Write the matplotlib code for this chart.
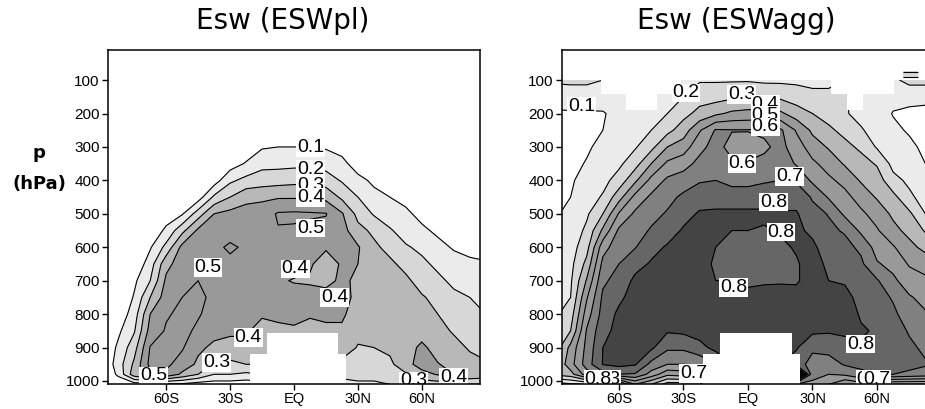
import matplotlib
matplotlib.use("Agg")
import matplotlib.pyplot as plt
import numpy as np

lats = [-90, -82.5, -75, -67.5, -60, -52.5, -45, -37.5, -30, -22.5, -15, -7.5, 0,
        7.5, 15, 22.5, 30, 37.5, 45, 52.5, 60, 67.5, 75, 82.5, 90]
plevs = [100, 150, 200, 250, 300, 350, 400, 450, 500, 550, 600, 650, 700, 750, 800,
         850, 900, 950, 980, 1010]

# one row per latitude, top of atmosphere first
esw_pl = np.array([
    [0, 0, 0, 0, 0, 0, 0, 0, 0, 0, 0, 0, 0, 0, 0, 0, 0, 0, 0, 0],
    [0, 0, 0, 0, 0, 0, 0, 0, 0, 0, 0, 0, 0, 0, .03, .08, .12, .15, .12, .03],
    [0, 0, 0, 0, 0, 0, 0, 0, 0, 0, 0, .02, .08, .11, .15, .19, .26, .32, .36, .05],
    [0, 0, 0, 0, 0, 0, 0, 0, 0, .03, .09, .15, .2, .3, .4, .44, .505, .53, .47, .05],
    [0, 0, 0, 0, 0, 0, 0, 0, .05, .12, .23, .37, .42, .45, .49, .51, .53, .52, .48, .08],
    [0, 0, 0, 0, 0, 0, 0, .03, .09, .27, .43, .45, .47, .5, .52, .53, .51, .46, .38, .08],
    [0, 0, 0, 0, 0, 0, .02, .05, .25, .42, .45, .47, .5, .52, .51, .48, .42, .38, .3, .05],
    [0, 0, 0, 0, 0, 0, .05, .22, .4, .44, .47, .49, .5, .48, .46, .43, .38, .29, .2, .05],
    [0, 0, 0, 0, 0, .05, .18, .3, .43, .45, .52, .47, .47, .46, .44, .42, .36, .28, .2, .05],
    [0, 0, 0, 0, .03, .11, .23, .37, .44, .46, .48, .47, .46, .45, .43, .41, .38, .3, .18, .04],
    [0, 0, 0, 0, .09, .17, .25, .38, .45, .47, .47, .47, .46, .45, .41, .37, .35, .3, .2, .05],
    [0, 0, 0, 0, .1, .17, .26, .39, .51, .495, .47, .44, .41, .42, .41, .39, .38, .35, .3, .2],
    [0, 0, 0, 0, .1, .175, .27, .39, .515, .49, .47, .43, .395, .43, .42, .39, .38, .35, .3, .2],
    [0, 0, 0, 0, .1, .175, .27, .39, .51, .48, .45, .41, .39, .43, .41, .37, .36, .33, .3, .2],
    [0, 0, 0, 0, .09, .16, .25, .37, .505, .47, .41, .36, .385, .42, .42, .38, .36, .33, .3, .2],
    [0, 0, 0, 0, .06, .13, .19, .28, .41, .44, .42, .41, .41, .42, .41, .39, .34, .28, .24, .15],
    [0, 0, 0, 0, 0, .05, .13, .2, .27, .33, .41, .4, .39, .385, .37, .32, .295, .27, .24, .18],
    [0, 0, 0, 0, 0, 0, .08, .13, .19, .28, .32, .34, .35, .36, .35, .33, .3, .26, .24, .18],
    [0, 0, 0, 0, 0, 0, .03, .1, .15, .21, .27, .32, .34, .36, .36, .35, .32, .28, .26, .2],
    [0, 0, 0, 0, 0, 0, 0, .07, .12, .16, .21, .27, .32, .35, .36, .37, .36, .36, .29, .22],
    [0, 0, 0, 0, 0, 0, 0, .02, .07, .12, .18, .22, .26, .31, .34, .36, .42, .45, .36, .25],
    [0, 0, 0, 0, 0, 0, 0, 0, .03, .08, .13, .18, .22, .27, .3, .33, .36, .405, .41, .25],
    [0, 0, 0, 0, 0, 0, 0, 0, 0, .04, .09, .14, .18, .22, .26, .29, .33, .37, .4, .2],
    [0, 0, 0, 0, 0, 0, 0, 0, 0, .02, .07, .12, .16, .2, .23, .26, .29, .33, .38, .2],
    [0, 0, 0, 0, 0, 0, 0, 0, 0, .02, .06, .11, .14, .17, .2, .24, .27, .31, .36, .2],
]).T

esw_agg = np.array([
    [.22, .13, .09, .08, .07, .07, .07, .08, .09, .1, .11, .12, .14, .16, .18, .195, .23, .29, .32, .05],
    [.22, .15, .09, .08, .08, .08, .09, .1, .12, .14, .155, .17, .185, .2, .25, .3, .43, .46, .36, .08],
    [.22, .15, .09, .08, .09, .105, .13, .155, .185, .22, .265, .33, .41, .49, .55, .61, .63, .65, .55, .1],
    [.2, .13, .095, .1, .12, .14, .17, .21, .3, .42, .56, .63, .68, .72, .74, .77, .8, .805, .66, .12],
    [.17, .12, .12, .13, .15, .18, .24, .36, .51, .62, .66, .7, .74, .78, .82, .83, .84, .83, .7, .15],
    [.17, .13, .14, .16, .19, .26, .38, .53, .62, .66, .695, .77, .82, .84, .85, .85, .85, .81, .69, .4],
    [.16, .15, .16, .2, .27, .4, .53, .62, .67, .71, .77, .81, .83, .85, .86, .85, .82, .67, .56, .3],
    [.17, .17, .2, .27, .4, .52, .62, .67, .71, .76, .81, .83, .84, .85, .84, .81, .72, .6, .43, .15],
    [.19, .2, .27, .35, .45, .56, .65, .72, .77, .81, .83, .84, .85, .85, .84, .82, .72, .6, .45, .15],
    [.19, .26, .33, .49, .57, .63, .69, .76, .81, .83, .84, .85, .85, .85, .84, .84, .77, .62, .45, .15],
    [.19, .26, .38, .61, .64, .65, .7, .75, .82, .83, .8, .78, .8, .84, .85, .84, .83, .7, .6, .4],
    [.19, .28, .42, .605, .56, .62, .67, .75, .82, .8, .77, .76, .8, .84, .85, .84, .83, .8, .7, .5],
    [.19, .3, .43, .605, .55, .61, .67, .75, .82, .8, .77, .76, .78, .83, .85, .84, .83, .8, .7, .5],
    [.18, .29, .43, .62, .58, .63, .69, .75, .82, .79, .77, .76, .79, .83, .85, .84, .83, .8, .7, .5],
    [.18, .28, .42, .62, .63, .66, .7, .76, .81, .81, .78, .77, .79, .84, .85, .84, .83, .8, .7, .5],
    [.18, .25, .35, .49, .55, .59, .69, .76, .81, .82, .81, .79, .79, .83, .84, .83, .81, .75, 1.25, .6],
    [.18, .22, .3, .38, .45, .52, .58, .69, .73, .78, .82, .84, .84, .85, .84, .82, .72, .66, .63, .58],
    [.18, .22, .26, .32, .39, .46, .52, .59, .695, .72, .75, .78, .8, .83, .84, .81, .74, .65, .6, .5],
    [.2, .21, .21, .27, .33, .39, .47, .53, .58, .69, .73, .76, .79, .83, .85, .82, .76, .71, .62, .4],
    [.15, .16, .17, .21, .28, .34, .39, .46, .52, .58, .68, .72, .74, .77, .79, .81, .79, .72, .68, .45],
    [.14, .14, .15, .16, .19, .29, .35, .39, .46, .51, .56, .61, .71, .74, .77, .79, .79, .75, .7, .4],
    [.18, .13, .095, .12, .14, .17, .23, .33, .38, .43, .51, .57, .62, .69, .72, .75, .76, .76, .7, .3],
    [.23, .13, .08, .09, .12, .15, .18, .22, .32, .37, .43, .49, .55, .61, .65, .69, .72, .73, .68, .3],
    [.23, .13, .07, .07, .08, .1, .13, .16, .2, .29, .37, .46, .52, .57, .61, .64, .68, .71, .66, .3],
    [.23, .13, .06, .06, .07, .08, .09, .1, .14, .19, .28, .38, .47, .53, .57, .61, .65, .69, .66, .3],
]).T

levels = [0, .1, .2, .3, .4, .5, .6, .7, .8, .9, 2]
shades = ["#ffffff", "#ebebeb", "#d7d7d7", "#b8b8b8", "#999999", "#999999",
          "#808080", "#666666", "#444444", "#000000"]

# below-ground cells, white in both panels
topo_lat = [-20.7, -12.9, 20.6, 24.4]
topo_p = [920, 857, 920, 920]
# cells without data at the top of the ESWagg panel
top_lat = [-88, -68.4, -56.9, -42.5, -31.2, 38.6, 45.9, 53.3, 68, 88]
top_p = [100, 142, 190, 142, 100, 142, 190, 142, 100, 100]
patch_lat = [72, 79.3]
patch_top = [73, 73]
patch_bot = [95, 95]

pl_labels = [("0.1", 7.7, 303), ("0.2", 7.7, 368), ("0.3", 7.7, 415), ("0.4", 7.7, 452),
             ("0.5", 7.7, 543), ("0.5", -40.3, 660), ("0.4", 0.6, 665), ("0.4", 19, 750),
             ("0.4", -21.5, 870), ("0.3", -36.4, 945), ("0.5", -66, 985),
             ("0.3", 56, 1000), ("0.4", 75, 990)]
agg_labels = [("0.1", -77.5, 178), ("0.2", -28.8, 138), ("0.3", -3, 143), ("0.4", 8, 172),
              ("0.5", 8, 205), ("0.6", 8, 240), ("0.6", -2.8, 350), ("0.7", 19.4, 388),
              ("0.8", 12, 465), ("0.8", 15.4, 555), ("0.8", -6.7, 720), ("0.8", 52.4, 890),
              ("0.3", -65.5, 995), ("0.8", -69.7, 995), ("0.7", -25.3, 978),
              ("0.6", 56.8, 995), ("0.7", 59.7, 995)]

yticks = [100, 200, 300, 400, 500, 600, 700, 800, 900, 1000]
xticks = [-60, -30, 0, 30, 60]
xticklabels = ["60S", "30S", "EQ", "30N", "60N"]

W, H = 925, 409
fig = plt.figure(figsize=(W / 100, H / 100), dpi=100)
plt.rcParams["font.family"] = ["Liberation Sans", "DejaVu Sans"]


def panel(x0, x1, xlim, z, title, labels, title_x):
    ax = fig.add_axes([x0 / W, 1 - 384 / H, (x1 - x0) / W, (384 - 50) / H])
    ax.contourf(lats, plevs, z, levels=levels, colors=shades, zorder=1)
    ax.contour(lats, plevs, z, levels=levels[1:9], colors="black", linewidths=0.8,
               linestyles="solid", zorder=2)
    ax.fill_between(topo_lat, topo_p, 1012, step="post", color="white", lw=0, zorder=3)
    ax.set_xlim(*xlim)
    ax.set_ylim(1009, 10)
    ax.set_xticks(xticks, xticklabels, fontsize=10.5)
    ax.set_yticks(yticks, [str(v) for v in yticks], fontsize=11)
    ax.tick_params(length=4, width=1, pad=2)
    for s in ax.spines.values():
        s.set_linewidth(1.1)
        s.set_zorder(20)
    for i, (txt, lon, p) in enumerate(labels):
        ax.text(lon, p, txt, fontsize=14, ha="center", va="center", zorder=5 + i * 0.1,
                clip_on=True, bbox=dict(fc="white", ec="none", pad=0.5))
    fig.text(title_x / W, 1 - 21 / H, title, fontsize=20, ha="center", va="center",
             family="DejaVu Sans")
    return ax


ax1 = panel(108, 480, (-87.3, 87.3), esw_pl, "Esw (ESWpl)", pl_labels, 283)
ax2 = panel(562, 935.7, (-86.5, 87.3), esw_agg, "Esw (ESWagg)", agg_labels, 736.5)

ax2.fill_between(top_lat, top_p, 8, step="post", color="white", lw=0, zorder=3)
ax2.fill_between(patch_lat, patch_top, patch_bot, color="#d7d7d7", lw=0, zorder=4)
ax2.hlines([77, 92], patch_lat[0], patch_lat[1], color="black", lw=0.8, zorder=4)

fig.text(39 / W, 1 - 153 / H, "p", fontsize=13, fontweight="bold", ha="center", va="center",
         family="DejaVu Sans")
fig.text(39 / W, 1 - 184 / H, "(hPa)", fontsize=13, fontweight="bold", ha="center", va="center",
         family="DejaVu Sans")

fig.savefig("out.png", dpi=100)
